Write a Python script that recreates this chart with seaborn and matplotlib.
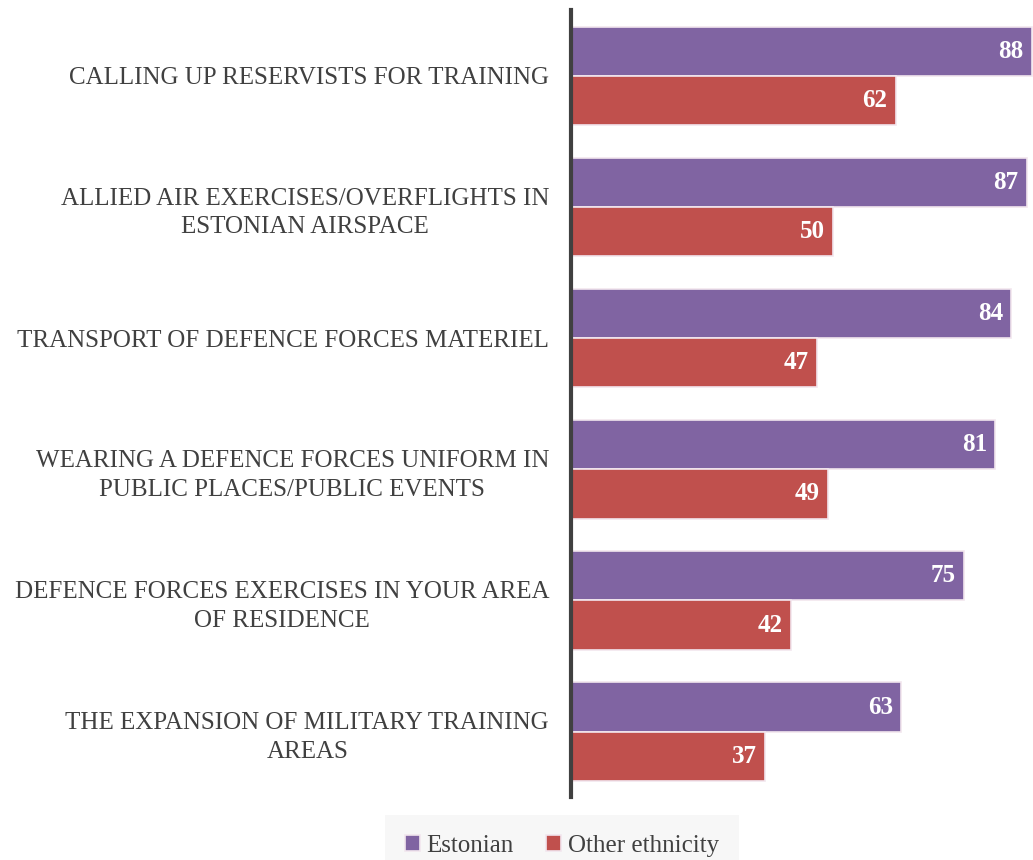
import pandas as pd
import matplotlib.pyplot as plt
import seaborn as sns

# dados
categorias = [
    'CALLING UP RESERVISTS FOR TRAINING',
    'ALLIED AIR EXERCISES/OVERFLIGHTS IN\nESTONIAN AIRSPACE',
    'TRANSPORT OF DEFENCE FORCES MATERIEL',
    'WEARING A DEFENCE FORCES UNIFORM IN\nPUBLIC PLACES/PUBLIC EVENTS',
    'DEFENCE FORCES EXERCISES IN YOUR AREA\nOF RESIDENCE',
    'THE EXPANSION OF MILITARY TRAINING\nAREAS',
]
estonian = [88, 87, 84, 81, 75, 63]
outros = [62, 50, 47, 49, 42, 37]
grupos = ['Estonian', 'Other ethnicity']
cores = ['#8064A2', '#C0504D']

df = pd.DataFrame({
    'Categoria': categorias * 2,
    'Valor': estonian + outros,
    'Grupo': [grupos[0]] * len(categorias) + [grupos[1]] * len(categorias),
})

sns.set_style('white')
plt.rcParams['font.family'] = ['Liberation Serif', 'DejaVu Serif']

fig = plt.figure(figsize=(10.33, 8.6), dpi=100)
ax = fig.add_axes([0.553, 0.073, 0.447, 0.915])

sns.barplot(data=df, y='Categoria', x='Valor', hue='Grupo', palette=cores,
            orient='h', width=0.75, saturation=1, edgecolor='#F2E6EE',
            linewidth=1.2, ax=ax, legend=True)

# rótulos dentro das barras
for cont in ax.containers:
    ax.bar_label(cont, fmt='%d', padding=-24, color='white',
                 fontsize=18, fontweight='bold')

ax.set_xlim(0, 88.2)
ax.set_xlabel('')
ax.set_ylabel('')
ax.set_xticks([])
ax.tick_params(axis='y', length=0, pad=16)
for lbl in ax.get_yticklabels():
    lbl.set_fontsize(18)
    lbl.set_color('#404040')
    lbl.set_multialignment('center')
    lbl.set_linespacing(1.4)

for s in ['top', 'right', 'bottom']:
    ax.spines[s].set_visible(False)
ax.spines['left'].set_color('#404040')
ax.spines['left'].set_linewidth(3)

ax.legend_.remove()
handles, labels = ax.get_legend_handles_labels()
leg = fig.legend(handles[:2], labels[:2], loc='lower center',
                 bbox_to_anchor=(0.544, -0.02), ncol=2, frameon=True,
                 fontsize=18, handlelength=0.6, handleheight=0.6,
                 handletextpad=0.25, columnspacing=1.3, borderpad=0.5,
                 borderaxespad=0.3)
leg.get_frame().set_facecolor('#F5F5F5')
leg.get_frame().set_edgecolor('none')
leg.get_frame().set_boxstyle('square')
for t in leg.get_texts():
    t.set_color('#404040')

plt.savefig('out.png', dpi=100)
